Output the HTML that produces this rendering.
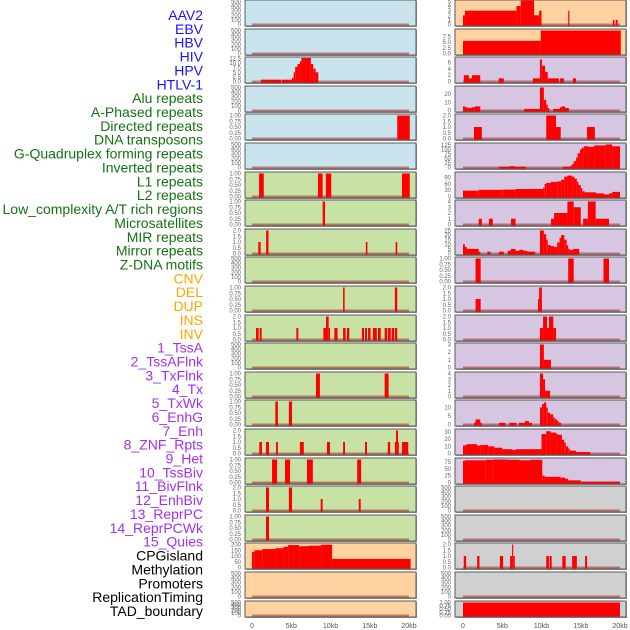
<!DOCTYPE html>
<html><head><meta charset="utf-8"><style>
html,body{margin:0;padding:0;background:#fff;}
svg{display:block;font-family:"Liberation Sans",sans-serif;}
</style></head><body>
<svg id="chart" width="630" height="630" viewBox="0 0 630 630" xmlns="http://www.w3.org/2000/svg"></svg>
<script>
// ---- labels ----
const labelNames = ["AAV2","EBV","HBV","HIV","HPV","HTLV-1","Alu repeats","A-Phased repeats","Directed repeats","DNA transposons","G-Quadruplex forming repeats","Inverted repeats","L1 repeats","L2 repeats","Low_complexity A/T rich regions","Microsatellites","MIR repeats","Mirror repeats","Z-DNA motifs","CNV","DEL","DUP","INS","INV","1_TssA","2_TssAFlnk","3_TxFlnk","4_Tx","5_TxWk","6_EnhG","7_Enh","8_ZNF_Rpts","9_Het","10_TssBiv","11_BivFlnk","12_EnhBiv","13_ReprPC","14_ReprPCWk","15_Quies","CPGisland","Methylation","Promoters","ReplicationTiming","TAD_boundary"];
const labelGroups = ["v","v","v","v","v","v","r","r","r","r","r","r","r","r","r","r","r","r","r","s","s","s","s","s","c","c","c","c","c","c","c","c","c","c","c","c","c","c","c","k","k","k","k","k"];
// ---- x axis ----
const xTickValues = [0,5,10,15,20];
const xTickLabels = ["0","5kb","10kb","15kb","20kb"];
// ---- tick sets ----
const ticksEmpty = [0,100,200,300,400,500];
const ticksFrac = [0,0.25,0.5,0.75,1];
const ticksTwo = [0,0.5,1,1.5,2];
// ---- left column series [startKb, endKb, value] ----
const leftHIV = [[1.15,3.7,1],[3.8,5.1,1],[5.1,5.3,2],[5.3,5.5,5],[5.5,5.8,8],[5.8,6.1,9.5],[6.1,6.3,11],[6.3,7.5,12.8],[7.5,7.8,9.5],[7.8,8.1,7],[8.1,8.45,5]];
const leftDirected = [[18.5,20.1,1]];
const leftInverted = [[0.9,1.5,1],[8.4,9.0,1],[9.4,10.1,1],[19.1,20.1,1]];
const leftLowComplexity = [[9.0,9.3,1]];
const leftMIR = [[0.8,1.1,1],[1.8,2.1,2],[14.5,14.7,1],[18.3,18.5,1]];
const leftZDNA = [[11.6,11.8,1],[18.2,18.5,1]];
const leftDEL = [[0.51,0.85,1],[0.98,1.23,1],[5.65,5.9,1],[9.09,9.43,1],[9.43,9.77,2],[9.77,9.94,1],[10.49,10.9,1],[11.6,11.93,1],[12.1,12.4,1],[14.0,14.27,1],[14.4,14.65,1],[14.78,15.1,1],[15.4,15.9,1],[16.05,16.4,1],[16.9,17.2,1],[17.3,17.67,1],[17.8,18.1,1],[18.2,18.5,1]];
const leftTssAFlnk = [[8.15,8.65,1],[16.9,17.4,1]];
const leftTxFlnk = [[2.97,3.3,1],[4.7,5.1,1]];
const leftTx = [[0.93,1.27,1],[1.78,2.17,1],[3.06,3.3,1],[6.1,6.6,1],[9.55,9.94,1],[11.6,11.85,1],[14.4,14.65,1],[17.3,17.6,1],[18.2,18.35,1],[18.35,18.6,2],[18.6,18.7,1],[19.1,19.9,1]];
const leftTxWk = [[2.55,3.2,1],[4.2,4.85,1],[7.0,7.75,1],[13.4,13.9,1]];
const leftEnhG = [[1.78,2.17,2],[4.7,5.1,2],[8.75,9.0,1],[13.6,13.85,1]];
const leftEnh = [[1.78,2.17,1]];
const leftCPG = [[0,0.3,135],[0.3,1.3,150],[1.3,3.0,160],[3.0,4.0,168],[4.0,4.6,180],[4.6,6.0,195],[6.0,7.2,185],[7.2,8.8,190],[8.8,10.2,198],[10.2,20.2,75]];
// ---- right column series ----
const rightAAV2 = [[0,0.25,2],[0.25,6.8,3],[6.8,7.35,4],[7.35,9.05,5.2],[9.05,9.7,2],[9.7,10.0,3],[13.4,13.55,3],[19.1,19.3,1],[19.45,19.7,1]];
const rightEBV = [[0,9.9,5.5],[9.9,20.1,10]];
const rightHBV = [[0.1,0.75,2],[0.75,1.15,1],[1.15,2.2,2],[4.55,5.2,1],[8.9,9.8,1],[9.8,10.05,7],[10.05,10.45,5],[10.45,10.8,3],[10.8,12.2,1],[12.35,12.85,1],[14.0,14.4,1]];
const rightHIV = [[0,0.25,5],[0.25,0.6,4],[0.6,1.1,3],[1.1,1.5,4],[1.5,2.2,5],[7.8,9.8,2],[9.8,10.3,28],[10.3,10.6,13],[10.6,10.8,7],[10.8,11.0,3],[11.5,12.35,2],[12.35,12.6,4],[12.6,13.0,5],[13.0,13.5,3]];
const rightHPV = [[1.4,2.4,1],[10.6,11.85,2],[11.85,12.45,1],[15.8,16.8,1]];
const rightHTLV = [[4.6,6.0,5],[6.0,6.5,8],[6.5,8.0,5],[12.7,13.65,5],[13.65,13.9,10],[13.9,14.1,20],[14.1,14.4,35],[14.4,14.6,55],[14.6,14.9,80],[14.9,15.1,100],[15.1,15.4,110],[15.4,16.0,118],[16.0,16.7,115],[16.7,18.2,123],[18.2,19.0,128],[19.0,20.0,118]];
const rightAlu = [[0,2.0,28],[2.0,5.0,32],[5.0,6.7,33],[6.7,10.2,36],[10.2,10.4,42],[10.4,10.6,60],[10.6,11.2,65],[11.2,12.0,70],[12.0,12.5,72],[12.5,12.9,80],[12.9,13.3,95],[13.3,13.9,100],[13.9,14.2,95],[14.2,14.5,85],[14.5,14.7,70],[14.7,15.0,55],[15.0,15.2,40],[15.2,15.5,25],[15.5,16.95,20],[16.95,18.0,15],[18.0,18.6,10],[18.6,19.0,15],[19.0,20.0,22]];
const rightAPhased = [[2.0,2.4,1],[3.3,3.8,1],[6.1,6.7,1],[11.2,11.6,1],[11.6,13.3,2],[13.3,14.1,4],[14.1,15.0,3],[15.3,15.9,1],[15.9,16.9,4],[16.9,18.6,1]];
const rightDirected = [[0,0.25,10],[0.25,0.5,7],[0.5,2.0,5],[2.0,2.2,2],[3.1,3.5,2],[4.6,5.2,2],[5.7,6.1,3],[6.1,6.7,5],[6.7,7.2,3],[7.2,7.7,4],[7.7,8.2,3],[8.2,9.2,2],[9.8,10.3,25],[10.3,10.6,21],[10.6,10.8,15],[10.8,11.2,9],[11.2,11.6,8],[11.6,12.0,7],[12.0,12.3,12],[12.3,12.5,17],[12.5,12.9,20],[12.9,13.2,15],[13.2,13.4,9],[13.4,13.6,5],[13.6,14.0,4],[14.0,14.8,5]];
const rightDNA = [[1.6,2.25,1],[13.4,14.1,1],[17.9,18.6,1]];
const rightGQuad = [[1.6,2.25,1],[9.55,9.7,1],[9.7,10.05,2]];
const rightInverted = [[9.8,10.2,1],[10.2,10.7,2],[10.7,10.95,1],[10.95,11.5,2],[11.5,11.85,1]];
const rightL1 = [[9.8,10.3,3],[10.3,11.2,1]];
const rightL2 = [[9.8,10.2,4],[10.2,10.45,3],[10.45,11.1,1]];
const rightLowComp = [[1.4,1.6,1],[1.6,2.2,3],[2.2,2.4,1],[4.6,5.4,1],[5.9,6.8,1],[7.13,7.9,1],[7.9,8.4,2],[8.4,8.8,1],[9.8,10.05,10],[10.05,10.3,12],[10.3,10.6,13],[10.6,10.8,10],[10.8,11.1,7],[11.1,11.5,6],[11.5,11.7,4],[11.7,12.0,3],[12.0,12.2,2],[12.2,12.5,1]];
const rightMicrosat = [[0,0.25,11],[0.25,0.5,12],[0.5,1.8,13],[1.8,2.2,11],[2.2,2.6,12],[2.6,3.2,12],[3.2,4.0,10],[4.0,5.0,8],[5.0,6.3,6],[6.3,6.7,5],[6.7,10.0,6],[10.0,10.6,27],[10.6,11.2,31],[11.2,11.9,29],[11.9,12.1,27],[12.1,12.6,26],[12.6,12.9,19],[12.9,13.1,15],[13.1,13.4,10],[13.4,13.6,7],[13.6,14.4,4],[14.4,16.2,2]];
const rightMIR = [[0,0.25,80],[0.25,2.9,82],[2.9,3.9,84],[3.9,5.8,85],[5.8,7.2,84],[7.2,8.6,82],[8.6,10.1,84],[10.1,10.4,25],[10.4,12.4,21],[12.4,13.0,18],[13.0,13.4,14],[13.4,15.0,8],[15.0,20.0,3]];
const rightCNV = [[0.1,0.4,1],[1.8,2.1,1],[4.7,5.1,1],[6.0,6.25,1],[6.25,6.4,2],[6.4,6.6,1],[10.6,10.95,1],[11.05,11.3,1],[12.65,13.08,1],[13.9,14.5,1],[15.55,15.8,1]];
const rightTAD = [[0,20,1]];

const BG = {blue:"#c9e4ec", green:"#c8e2a6", peach:"#ffd2a2", lav:"#d6c6e2", gray:"#d0d0d0"};
// panel specs: [name, bg, ticks, tickDecimals, top, data]
const leftPanels = [
 ["aav2",BG.blue,ticksEmpty,0,500,[]],
 ["ebv",BG.blue,ticksEmpty,0,500,[]],
 ["hiv",BG.blue,[0,2.5,5,7.5,10,12.5],1,12.5,leftHIV],
 ["hpv",BG.blue,ticksEmpty,0,500,[]],
 ["directed",BG.blue,ticksFrac,2,1,leftDirected],
 ["gquad",BG.blue,ticksEmpty,0,500,[]],
 ["inverted",BG.green,ticksFrac,2,1,leftInverted],
 ["lowcomp",BG.green,ticksFrac,2,1,leftLowComplexity],
 ["mir",BG.green,ticksTwo,1,2,leftMIR],
 ["mirror",BG.green,ticksEmpty,0,500,[]],
 ["zdna",BG.green,ticksFrac,2,1,leftZDNA],
 ["del",BG.green,ticksTwo,1,2,leftDEL],
 ["tssa",BG.green,ticksEmpty,0,500,[]],
 ["tssaflnk",BG.green,ticksFrac,2,1,leftTssAFlnk],
 ["txflnk",BG.green,ticksFrac,2,1,leftTxFlnk],
 ["tx",BG.green,ticksTwo,1,2,leftTx],
 ["txwk",BG.green,ticksFrac,2,1,leftTxWk],
 ["enhg",BG.green,ticksTwo,1,2,leftEnhG],
 ["enh",BG.green,ticksFrac,2,1,leftEnh],
 ["cpg",BG.peach,[0,50,100,150,200],0,200,leftCPG],
 ["promoters",BG.peach,ticksEmpty,0,500,[]],
 ["tad",BG.peach,ticksEmpty,0,500,[]]
];
const rightPanels = [
 ["aav2",BG.peach,[0,1,2,3,4,5],0,5,rightAAV2],
 ["ebv",BG.peach,[0,2.5,5,7.5],1,10,rightEBV],
 ["hbv",BG.lav,[0,2,4,6],0,7.3,rightHBV],
 ["hiv",BG.lav,[0,10,20],0,28,rightHIV],
 ["hpv",BG.lav,ticksTwo,1,2,rightHPV],
 ["htlv",BG.lav,[0,25,50,75,100,125],0,128,rightHTLV],
 ["alu",BG.lav,[0,30,60,90],0,110,rightAlu],
 ["aphased",BG.lav,[0,1,2,3,4],0,4,rightAPhased],
 ["directed",BG.lav,[0,5,10,15,20,25],0,25,rightDirected],
 ["dna",BG.lav,ticksFrac,2,1,rightDNA],
 ["gquad",BG.lav,ticksTwo,1,2,rightGQuad],
 ["inverted",BG.lav,ticksTwo,1,2,rightInverted],
 ["l1",BG.lav,[0,1,2,3],0,3,rightL1],
 ["l2",BG.lav,[0,1,2,3,4],0,4,rightL2],
 ["lowcomp",BG.lav,[0,5,10],0,13.5,rightLowComp],
 ["microsat",BG.lav,[0,10,20,30],0,32,rightMicrosat],
 ["mir",BG.lav,[0,25,50,75],0,85,rightMIR],
 ["mirror",BG.gray,ticksEmpty,0,500,[]],
 ["zdna",BG.gray,ticksEmpty,0,500,[]],
 ["cnv",BG.gray,ticksTwo,1,2,rightCNV],
 ["del",BG.gray,ticksEmpty,0,500,[]],
 ["tad",BG.gray,ticksFrac,2,1,rightTAD]
];

const NS="http://www.w3.org/2000/svg";
const svg=document.getElementById("chart");
function mk(tag,attrs,parent){const e=document.createElementNS(NS,tag);for(const k in attrs)e.setAttribute(k,attrs[k]);(parent||svg).appendChild(e);return e;}

// labels
const colors={v:"#1515ff",r:"#137313",s:"#ffa500",c:"#a330f0",k:"#000000"};
const labelLayer=mk("g",{});


labelNames.forEach((n,i)=>{
  const t=mk("text",{x:203,y:(15+i*13.86+5).toFixed(1),"text-anchor":"end","font-size":"14",fill:colors[labelGroups[i]]},labelLayer);
  t.textContent=n;
  
  
});

function xScale(col,kb){return (col===0?252:463)+kb*7.85;}
function panelTop(i){return i===21?601:Math.round(i*28.6);}
function panelH(i){return i===21?16:26;}

function drawPanel(col,i,spec){
  const [name,bg,ticks,dec,top,data]=spec;
  const x0=col===0?245:455, w=171, y0=panelTop(i), h=panelH(i);
  const g=mk("g",{});
  
  
  mk("rect",{x:x0+1,y:y0+1,width:w,height:h,fill:"#9a9a9a"},g);
  mk("rect",{x:x0,y:y0,width:w,height:h,fill:bg,stroke:"#5a5a5a","stroke-width":1},g);
  const base=y0+h-1.5, span=h-3;
  const yS=v=>base-v/top*span;
  // y ticks
  ticks.forEach(tv=>{
    const tt=mk("text",{x:col===0?241:451,y:(yS(tv)+2).toFixed(1),"text-anchor":"end","font-size":"6",fill:"#666"},g);
    tt.textContent=tv.toFixed(dec);
    
    
  });
  // baseline
  const bl=mk("line",{x1:xScale(col,0),x2:xScale(col,20),y1:base,y2:base,stroke:"rgba(150,0,0,0.45)","stroke-width":2},g);
  
  
  data.forEach(d=>{
    const xa=xScale(col,d[0]),xb=xScale(col,d[1]);
    const ya=Math.max(yS(d[2]),y0+0.5);
    const r=mk("rect",{x:xa.toFixed(2),y:ya.toFixed(2),width:Math.max(0.8,xb-xa).toFixed(2),height:(base-ya+1).toFixed(2),fill:"#ff0000"},g);
    
    
  });
}
leftPanels.forEach((p,i)=>drawPanel(0,i,p));
rightPanels.forEach((p,i)=>drawPanel(1,i,p));

// x axes
[0,1].forEach(col=>{
  const g=mk("g",{});
  
  
  xTickValues.forEach((v,j)=>{
    const t=mk("text",{x:xScale(col,v).toFixed(1),y:628,"text-anchor":"middle","font-size":"7",fill:"#555"},g);
    t.textContent=xTickLabels[j];
    
    
  });
});
</script>
</body></html>
